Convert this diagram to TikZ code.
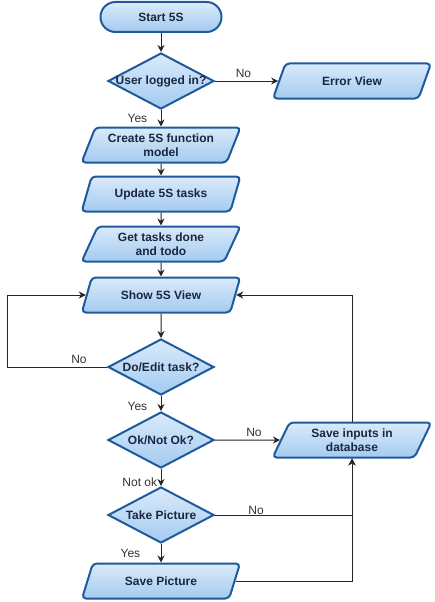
\documentclass[tikz,border=0pt]{standalone}
\usepackage{fontspec}
\setmainfont{Liberation Sans}
\usetikzlibrary{shapes.geometric, positioning, arrows.meta}
\definecolor{boxline}{RGB}{30,90,156}
\definecolor{boxtop}{RGB}{218,234,250}
\definecolor{boxbottom}{RGB}{164,203,240}
\definecolor{boxtext}{RGB}{25,40,65}
\definecolor{labeltext}{RGB}{50,50,50}

\begin{document}
\begin{tikzpicture}[x=1pt, y=-1pt, on grid, >={Stealth[length=7pt, width=7pt]}]
    \tikzstyle{base} = [draw=boxline, line width=2pt, top color=boxtop, bottom color=boxbottom, text=boxtext, font=\fontsize{12}{14}\selectfont\bfseries, align=center]
    \tikzstyle{startstop} = [base, rectangle, rounded corners=15pt, minimum width=121pt, minimum height=30pt]
    \tikzstyle{decision} = [base, diamond, minimum width=106pt, minimum height=56pt, inner sep=0pt]
    \tikzstyle{io} = [base, trapezium, trapezium left angle=68, trapezium right angle=112, trapezium stretches=true, rounded corners=4pt, minimum width=159pt, minimum height=35pt]
    \tikzstyle{flow} = [->, draw=black!85, line width=1pt]
    \tikzstyle{lbl} = [font=\fontsize{12}{14}\selectfont, text=labeltext]

    \useasboundingbox (0,0) rectangle (434,602);

    % diamond texts sit in zero-width boxes so the diamonds keep their size
    \node[startstop] (start) at (161,17) {Start 5S};
    \node[decision, below=64pt of start] (user) {\makebox[0pt]{User logged in?}};
    \node[io, right=191pt of user] (error) {Error View};
    \node[io, below=64pt of user] (create) {Create 5S function\\model};
    \node[io, below=49pt of create] (update) {Update 5S tasks};
    \node[io, below=50pt of update] (tasks) {Get tasks done\\and todo};
    \node[io, below=51pt of tasks] (show) {Show 5S View};
    \node[decision, below=72pt of show] (doedit) {\makebox[0pt]{Do/Edit task?}};
    \node[decision, below=73pt of doedit] (ok) {\makebox[0pt]{Ok/Not Ok?}};
    \node[io, right=191pt of ok] (savein) {Save inputs in\\database};
    \node[decision, below=75pt of ok] (take) {\makebox[0pt]{Take Picture}};
    \node[io, below=66pt of take] (savepic) {Save Picture};

    \draw[flow] (start) -- (user);
    \draw[flow] (user) -- node[lbl, above, pos=0.45] {No} (error);
    \draw[flow] (user) -- node[lbl, left, xshift=-10pt] {Yes} (create);
    \draw[flow] (create) -- (update);
    \draw[flow] (update) -- (tasks);
    \draw[flow] (tasks) -- (show);
    \draw[flow] (show) -- (doedit);
    \draw[flow] (doedit.west) -- node[lbl, above, pos=0.28] {No} ++(-100,0) |- (show.west);
    \draw[flow] (doedit) -- node[lbl, left, pos=0.7, xshift=-10pt] {Yes} (ok);
    \draw[flow] (ok) -- node[lbl, above, pos=0.6] {No} (savein);
    \draw[flow] (ok) -- node[lbl, left, pos=0.8] {Not ok} (take);
    \draw[flow] (take) -- node[lbl, left, xshift=-17pt] {Yes} (savepic);
    \draw[flow] (take) -| node[lbl, above, pos=0.15, inner sep=0pt] {No} (savein);
    \draw[flow] (savepic) -| (savein);
    \draw[flow] (savein) |- (show);
\end{tikzpicture}
\end{document}
